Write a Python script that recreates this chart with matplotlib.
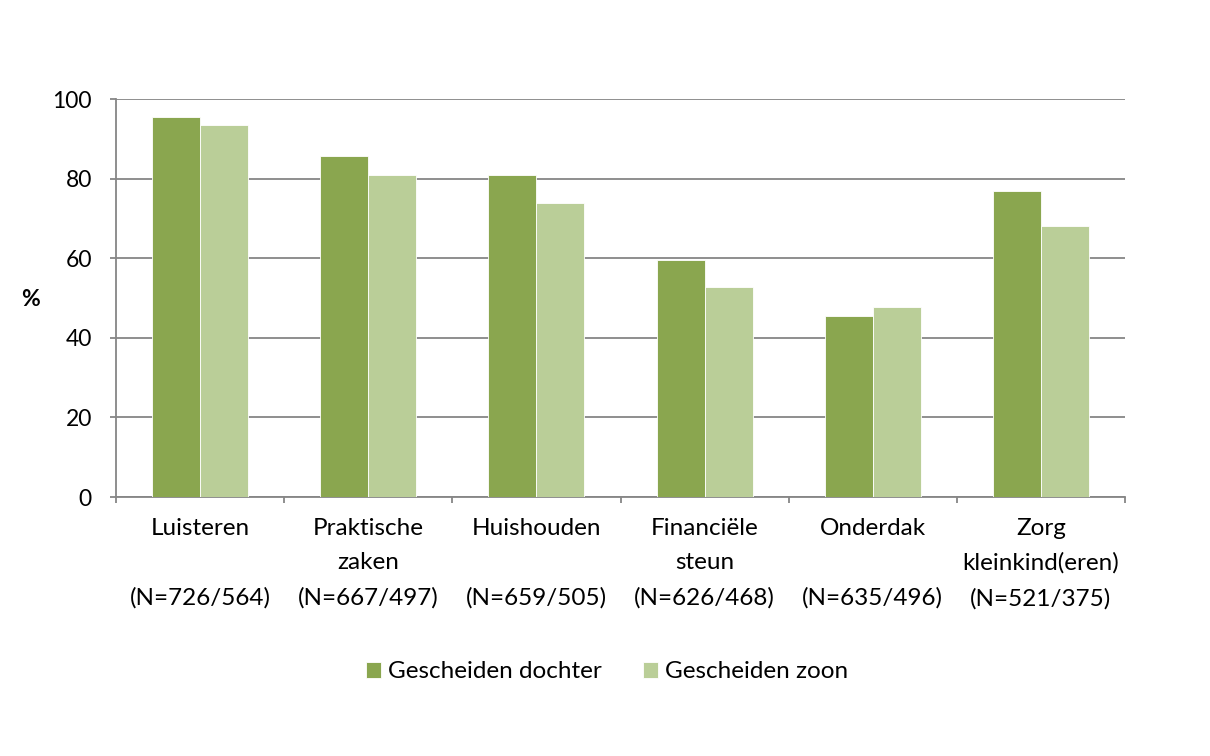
import matplotlib
matplotlib.use("Agg")
import matplotlib.pyplot as plt
import numpy as np

categories = ["Luisteren\n\n(N=726/564)", "Praktische\nzaken\n(N=667/497)", "Huishouden\n\n(N=659/505)",
              "Financiële\nsteun\n(N=626/468)", "Onderdak\n\n(N=635/496)", "Zorg\nkleinkind(eren)\n(N=521/375)"]
dochter = [95.5, 85.7, 80.9, 59.5, 45.6, 76.9]
zoon = [93.4, 80.9, 73.8, 52.7, 47.7, 68.0]
series_names = ["Gescheiden dochter", "Gescheiden zoon"]
yticks = [0, 20, 40, 60, 80, 100]

plt.rcParams['font.family'] = ['Lato', 'DejaVu Sans']
FS = 17.5

fig = plt.figure(figsize=(12.1, 7.56), dpi=100)
ax = fig.add_axes([116/1210, 1 - 497/756, (1125 - 116)/1210, (497 - 99)/756])

x = np.arange(len(categories))
w = 0.285
c1, c2 = "#8AA64F", "#BACE98"
ax.bar(x - w/2, dochter, w, color=c1, edgecolor="white", linewidth=0.6, label=series_names[0], zorder=3)
ax.bar(x + w/2, zoon, w, color=c2, edgecolor="white", linewidth=0.6, label=series_names[1], zorder=3)

ax.set_xlim(-0.5, len(categories) - 0.5)
ax.set_ylim(0, 100)
ax.set_yticks(yticks)
ax.yaxis.grid(True, color="#868686", linewidth=1.3, zorder=0)
for s in ["top", "right"]:
    ax.spines[s].set_visible(False)
for s in ["left", "bottom"]:
    ax.spines[s].set_color("#868686")
    ax.spines[s].set_linewidth(1.3)
ax.tick_params(axis="y", direction="out", length=4.3, color="#868686", width=1.3, labelsize=16.5, pad=13)
ax.set_xticks(np.arange(len(categories) + 1) - 0.5, minor=False)
ax.set_xticklabels([])
ax.tick_params(axis="x", which="major", direction="out", length=4.3, color="#868686", width=1.3)
ax.set_xticks(x, minor=True)
ax.set_xticklabels(categories, minor=True, fontsize=FS, linespacing=1.78, va="top")
ax.tick_params(axis="x", which="minor", length=0, pad=15)

fig.text(30/1210, 1 - 300/756, "%", fontsize=16.5, fontweight="bold", ha="center", va="center")

ax.legend(loc="center", bbox_to_anchor=(607/1210, 1 - 672/756), bbox_transform=fig.transFigure,
          ncol=2, frameon=False, fontsize=FS, handlelength=0.62, handleheight=0.62,
          handletextpad=0.3, columnspacing=1.7)

fig.savefig("out.png", dpi=100)
